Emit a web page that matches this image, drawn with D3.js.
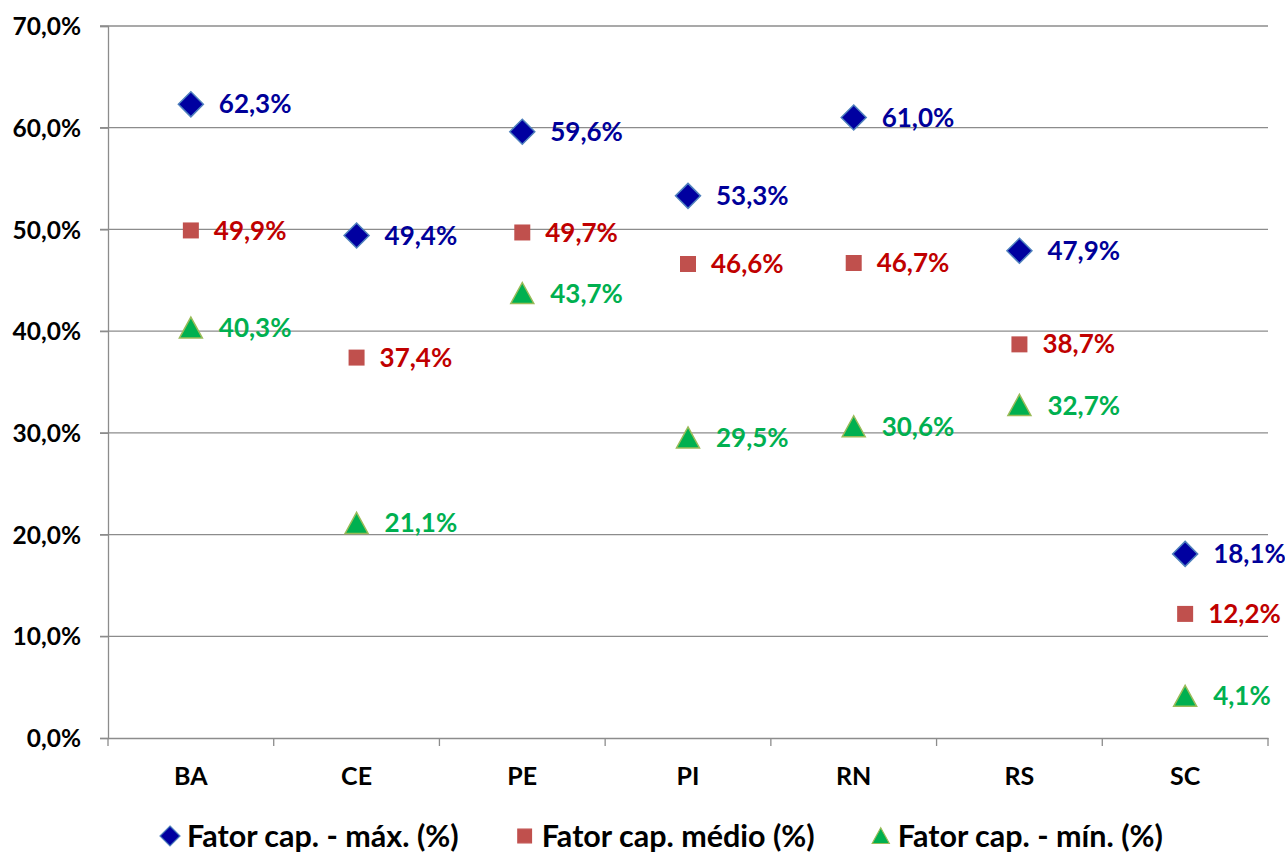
<!DOCTYPE html>
<html>
<head>
<meta charset="utf-8">
<script src="https://cdn.jsdelivr.net/npm/d3@7"></script>
<style>
  body { margin: 0; background: #fff; }
  svg text { font-family: Lato, "Open Sans", sans-serif; font-weight: bold; }
</style>
</head>
<body>
<div id="chart"></div>
<script>
// data
var categories = ["BA", "CE", "PE", "PI", "RN", "RS", "SC"];
var maxValues = [62.3, 49.4, 59.6, 53.3, 61.0, 47.9, 18.1];
var medValues = [49.9, 37.4, 49.7, 46.6, 46.7, 38.7, 12.2];
var minValues = [40.3, 21.1, 43.7, 29.5, 30.6, 32.7, 4.1];
var yTicks = [0, 10, 20, 30, 40, 50, 60, 70];
var seriesNames = ["Fator cap. - máx. (%)", "Fator cap. médio (%)", "Fator cap. - mín. (%)"];

var series = [
    {name: seriesNames[0], values: maxValues, shape: "diamond", fill: "#0000a0", stroke: "#4f81bd", label: "#000099", dx: 28, ls: 0.8},
    {name: seriesNames[1], values: medValues, shape: "square", fill: "#c0504d", stroke: "#c0504d", label: "#c00000", dx: 23, ls: 0.85},
    {name: seriesNames[2], values: minValues, shape: "triangle", fill: "#00b050", stroke: "#9bbb59", label: "#00b050", dx: 28, ls: 0.75}
];

var W = 1285, H = 853;
var margin = {top: 26, right: 17, bottom: 115, left: 108},
    width = W - margin.left - margin.right,
    height = H - margin.top - margin.bottom;

var svg = d3.select("#chart")
  .append("svg")
    .attr("width", W)
    .attr("height", H)
  .append("g")
    .attr("transform", "translate(" + margin.left + "," + margin.top + ")");

var x = d3.scaleBand()
    .domain(categories)
    .range([0, width]);

var y = d3.scaleLinear()
    .domain([0, 70])
    .range([height, 0]);

var fmt = function(v) { return v.toFixed(1).replace(".", ",") + "%"; };

// gridlines
svg.append("g")
    .selectAll("line")
    .data(yTicks.filter(d => d > 0))
    .enter().append("line")
    .attr("x1", -8)
    .attr("x2", width)
    .attr("y1", d => y(d))
    .attr("y2", d => y(d))
    .attr("stroke", "#8c8c8c")
    .attr("stroke-width", 1.3);

// Y axis
var yAxis = svg.append("g")
    .call(d3.axisLeft(y).tickValues(yTicks).tickFormat(fmt).tickSize(8).tickPadding(19));
yAxis.select(".domain").attr("stroke", "#8c8c8c").attr("stroke-width", 1.3);
yAxis.selectAll(".tick line").attr("stroke", "#8c8c8c").attr("stroke-width", 1.3);
yAxis.selectAll("text")
    .style("font-size", "24.5px")
    .attr("fill", "#000")
    .attr("dy", "0.35em");

// X axis
var xAxis = svg.append("g")
    .attr("transform", "translate(0," + height + ")")
    .call(d3.axisBottom(x).tickSize(0).tickPadding(29));
xAxis.select(".domain").attr("stroke", "#8c8c8c").attr("stroke-width", 1.3);
xAxis.selectAll("text").style("font-size", "25px").attr("fill", "#000");

// category separator ticks
svg.append("g")
    .selectAll("line")
    .data(categories.concat([null]))
    .enter().append("line")
    .attr("x1", (d, i) => i * x.step())
    .attr("x2", (d, i) => i * x.step())
    .attr("y1", height)
    .attr("y2", height + 8)
    .attr("stroke", "#8c8c8c")
    .attr("stroke-width", 1.3);

function shapePath(shape) {
    if (shape === "diamond") return "M0,-12.5L12.5,0L0,12.5L-12.5,0Z";
    if (shape === "square") return "M-8,-8L8,-8L8,8L-8,8Z";
    return "M0,-11L11.5,10L-11.5,10Z";
}

series.forEach(function(s) {
    var g = svg.append("g");
    var pts = g.selectAll("g")
        .data(categories.map((c, i) => ({cat: c, v: s.values[i]})))
        .enter().append("g")
        .attr("transform", d => "translate(" + (x(d.cat) + x.bandwidth() / 2) + "," + y(d.v) + ")");
    pts.append("path")
        .attr("d", shapePath(s.shape))
        .attr("fill", s.fill)
        .attr("stroke", s.stroke)
        .attr("stroke-width", s.shape === "square" ? 0 : 1.5);
    pts.append("text")
        .attr("x", s.dx)
        .attr("dy", "0.35em")
        .style("font-size", "26px")
        .attr("fill", s.label)
        .text(d => fmt(d.v));
});

// legend
var legend = d3.select("svg").append("g")
    .attr("transform", "translate(0,836)");
var lx = 170;
series.forEach(function(s) {
    var item = legend.append("g").attr("transform", "translate(" + lx + ",0)");
    item.append("path")
        .attr("d", shapePath(s.shape))
        .attr("transform", "scale(" + s.ls + ")")
        .attr("fill", s.fill)
        .attr("stroke", s.stroke)
        .attr("stroke-width", 1.5);
    var t = item.append("text")
        .attr("x", 17)
        .attr("dy", "0.35em")
        .style("font-size", "30.5px")
        .attr("fill", "#000")
        .text(s.name);
    lx += 17 + t.node().getComputedTextLength() + 66;
});
</script>
</body>
</html>
